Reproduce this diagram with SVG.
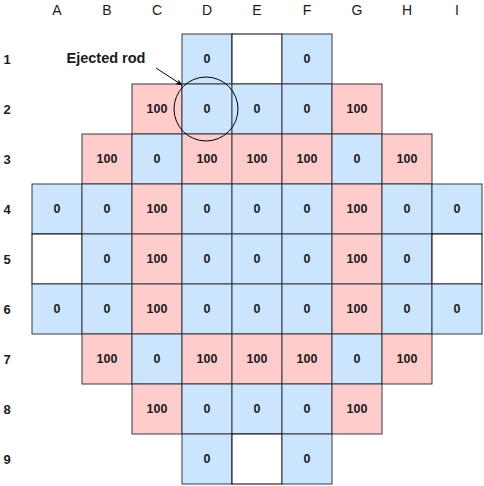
<svg xmlns="http://www.w3.org/2000/svg" width="484" height="486" viewBox="0 0 484 486">
<defs>
<style>
.b{fill:#cce5ff;stroke:#36393d;stroke-width:1}
.p{fill:#ffcccc;stroke:#36393d;stroke-width:1}
.w{fill:#ffffff;stroke:#000000;stroke-width:1}
.t{font-family:"Liberation Sans",Arial,sans-serif;font-size:12.5px;font-weight:bold;fill:#1a1a1a;text-anchor:middle;dominant-baseline:central}
.l{font-family:"Liberation Sans",Arial,sans-serif;font-size:13px;font-weight:bold;fill:#1a1a1a;text-anchor:middle;dominant-baseline:central}
.c{font-family:"Liberation Sans",Arial,sans-serif;font-size:14px;fill:#1a1a1a;text-anchor:middle;dominant-baseline:central}
.e{font-family:"Liberation Sans",Arial,sans-serif;font-size:14.5px;font-weight:bold;fill:#1a1a1a;text-anchor:middle;dominant-baseline:central}
</style>
<marker id="ah" viewBox="0 0 10 10" refX="9" refY="5" markerWidth="7" markerHeight="7" orient="auto"><path d="M0,1 L10,5 L0,9 L3,5 Z" fill="#000"/></marker>
</defs>
<rect width="484" height="486" fill="#fff"/>
<g id="labels">
<text class="c" x="57" y="10">A</text><text class="c" x="107" y="10">B</text><text class="c" x="157" y="10">C</text><text class="c" x="207" y="10">D</text><text class="c" x="257" y="10">E</text><text class="c" x="307" y="10">F</text><text class="c" x="357" y="10">G</text><text class="c" x="407" y="10">H</text><text class="c" x="457" y="10">I</text>
<text class="l" x="7" y="59">1</text><text class="l" x="7" y="109">2</text><text class="l" x="7" y="159">3</text><text class="l" x="7" y="209">4</text><text class="l" x="7" y="259">5</text><text class="l" x="7" y="309">6</text><text class="l" x="7" y="359">7</text><text class="l" x="7" y="409">8</text><text class="l" x="7" y="459">9</text>
</g>
<g id="row1">
<g id="D1"><rect class="b" x="182" y="34" width="50" height="50"/><text class="t" x="207" y="59">0</text></g>
<g id="E1"><rect class="w" x="232" y="34" width="50" height="50"/></g>
<g id="F1"><rect class="b" x="282" y="34" width="50" height="50"/><text class="t" x="307" y="59">0</text></g>
</g>
<g id="row2">
<g id="C2"><rect class="p" x="132" y="84" width="50" height="50"/><text class="t" x="157" y="109">100</text></g>
<g id="D2"><rect class="b" x="182" y="84" width="50" height="50"/><text class="t" x="207" y="109">0</text></g>
<g id="E2"><rect class="b" x="232" y="84" width="50" height="50"/><text class="t" x="257" y="109">0</text></g>
<g id="F2"><rect class="b" x="282" y="84" width="50" height="50"/><text class="t" x="307" y="109">0</text></g>
<g id="G2"><rect class="p" x="332" y="84" width="50" height="50"/><text class="t" x="357" y="109">100</text></g>
</g>
<g id="row3">
<g id="B3"><rect class="p" x="82" y="134" width="50" height="50"/><text class="t" x="107" y="159">100</text></g>
<g id="C3"><rect class="b" x="132" y="134" width="50" height="50"/><text class="t" x="157" y="159">0</text></g>
<g id="D3"><rect class="p" x="182" y="134" width="50" height="50"/><text class="t" x="207" y="159">100</text></g>
<g id="E3"><rect class="p" x="232" y="134" width="50" height="50"/><text class="t" x="257" y="159">100</text></g>
<g id="F3"><rect class="p" x="282" y="134" width="50" height="50"/><text class="t" x="307" y="159">100</text></g>
<g id="G3"><rect class="b" x="332" y="134" width="50" height="50"/><text class="t" x="357" y="159">0</text></g>
<g id="H3"><rect class="p" x="382" y="134" width="50" height="50"/><text class="t" x="407" y="159">100</text></g>
</g>
<g id="row4">
<g id="A4"><rect class="b" x="32" y="184" width="50" height="50"/><text class="t" x="57" y="209">0</text></g>
<g id="B4"><rect class="b" x="82" y="184" width="50" height="50"/><text class="t" x="107" y="209">0</text></g>
<g id="C4"><rect class="p" x="132" y="184" width="50" height="50"/><text class="t" x="157" y="209">100</text></g>
<g id="D4"><rect class="b" x="182" y="184" width="50" height="50"/><text class="t" x="207" y="209">0</text></g>
<g id="E4"><rect class="b" x="232" y="184" width="50" height="50"/><text class="t" x="257" y="209">0</text></g>
<g id="F4"><rect class="b" x="282" y="184" width="50" height="50"/><text class="t" x="307" y="209">0</text></g>
<g id="G4"><rect class="p" x="332" y="184" width="50" height="50"/><text class="t" x="357" y="209">100</text></g>
<g id="H4"><rect class="b" x="382" y="184" width="50" height="50"/><text class="t" x="407" y="209">0</text></g>
<g id="I4"><rect class="b" x="432" y="184" width="50" height="50"/><text class="t" x="457" y="209">0</text></g>
</g>
<g id="row5">
<g id="A5"><rect class="w" x="32" y="234" width="50" height="50"/></g>
<g id="B5"><rect class="b" x="82" y="234" width="50" height="50"/><text class="t" x="107" y="259">0</text></g>
<g id="C5"><rect class="p" x="132" y="234" width="50" height="50"/><text class="t" x="157" y="259">100</text></g>
<g id="D5"><rect class="b" x="182" y="234" width="50" height="50"/><text class="t" x="207" y="259">0</text></g>
<g id="E5"><rect class="b" x="232" y="234" width="50" height="50"/><text class="t" x="257" y="259">0</text></g>
<g id="F5"><rect class="b" x="282" y="234" width="50" height="50"/><text class="t" x="307" y="259">0</text></g>
<g id="G5"><rect class="p" x="332" y="234" width="50" height="50"/><text class="t" x="357" y="259">100</text></g>
<g id="H5"><rect class="b" x="382" y="234" width="50" height="50"/><text class="t" x="407" y="259">0</text></g>
<g id="I5"><rect class="w" x="432" y="234" width="50" height="50"/></g>
</g>
<g id="row6">
<g id="A6"><rect class="b" x="32" y="284" width="50" height="50"/><text class="t" x="57" y="309">0</text></g>
<g id="B6"><rect class="b" x="82" y="284" width="50" height="50"/><text class="t" x="107" y="309">0</text></g>
<g id="C6"><rect class="p" x="132" y="284" width="50" height="50"/><text class="t" x="157" y="309">100</text></g>
<g id="D6"><rect class="b" x="182" y="284" width="50" height="50"/><text class="t" x="207" y="309">0</text></g>
<g id="E6"><rect class="b" x="232" y="284" width="50" height="50"/><text class="t" x="257" y="309">0</text></g>
<g id="F6"><rect class="b" x="282" y="284" width="50" height="50"/><text class="t" x="307" y="309">0</text></g>
<g id="G6"><rect class="p" x="332" y="284" width="50" height="50"/><text class="t" x="357" y="309">100</text></g>
<g id="H6"><rect class="b" x="382" y="284" width="50" height="50"/><text class="t" x="407" y="309">0</text></g>
<g id="I6"><rect class="b" x="432" y="284" width="50" height="50"/><text class="t" x="457" y="309">0</text></g>
</g>
<g id="row7">
<g id="B7"><rect class="p" x="82" y="334" width="50" height="50"/><text class="t" x="107" y="359">100</text></g>
<g id="C7"><rect class="b" x="132" y="334" width="50" height="50"/><text class="t" x="157" y="359">0</text></g>
<g id="D7"><rect class="p" x="182" y="334" width="50" height="50"/><text class="t" x="207" y="359">100</text></g>
<g id="E7"><rect class="p" x="232" y="334" width="50" height="50"/><text class="t" x="257" y="359">100</text></g>
<g id="F7"><rect class="p" x="282" y="334" width="50" height="50"/><text class="t" x="307" y="359">100</text></g>
<g id="G7"><rect class="b" x="332" y="334" width="50" height="50"/><text class="t" x="357" y="359">0</text></g>
<g id="H7"><rect class="p" x="382" y="334" width="50" height="50"/><text class="t" x="407" y="359">100</text></g>
</g>
<g id="row8">
<g id="C8"><rect class="p" x="132" y="384" width="50" height="50"/><text class="t" x="157" y="409">100</text></g>
<g id="D8"><rect class="b" x="182" y="384" width="50" height="50"/><text class="t" x="207" y="409">0</text></g>
<g id="E8"><rect class="b" x="232" y="384" width="50" height="50"/><text class="t" x="257" y="409">0</text></g>
<g id="F8"><rect class="b" x="282" y="384" width="50" height="50"/><text class="t" x="307" y="409">0</text></g>
<g id="G8"><rect class="p" x="332" y="384" width="50" height="50"/><text class="t" x="357" y="409">100</text></g>
</g>
<g id="row9">
<g id="D9"><rect class="b" x="182" y="434" width="50" height="50"/><text class="t" x="207" y="459">0</text></g>
<g id="E9"><rect class="w" x="232" y="434" width="50" height="50"/></g>
<g id="F9"><rect class="b" x="282" y="434" width="50" height="50"/><text class="t" x="307" y="459">0</text></g>
</g>
<g id="ejected">
<circle cx="206" cy="109" r="32" fill="none" stroke="#000" stroke-width="1"/>
<text class="e" x="106" y="58">Ejected rod</text>
</g>
<g id="connectors">
<line x1="156" y1="68" x2="182" y2="85" stroke="#000" stroke-width="1" marker-end="url(#ah)"/>
</g>
</svg>
